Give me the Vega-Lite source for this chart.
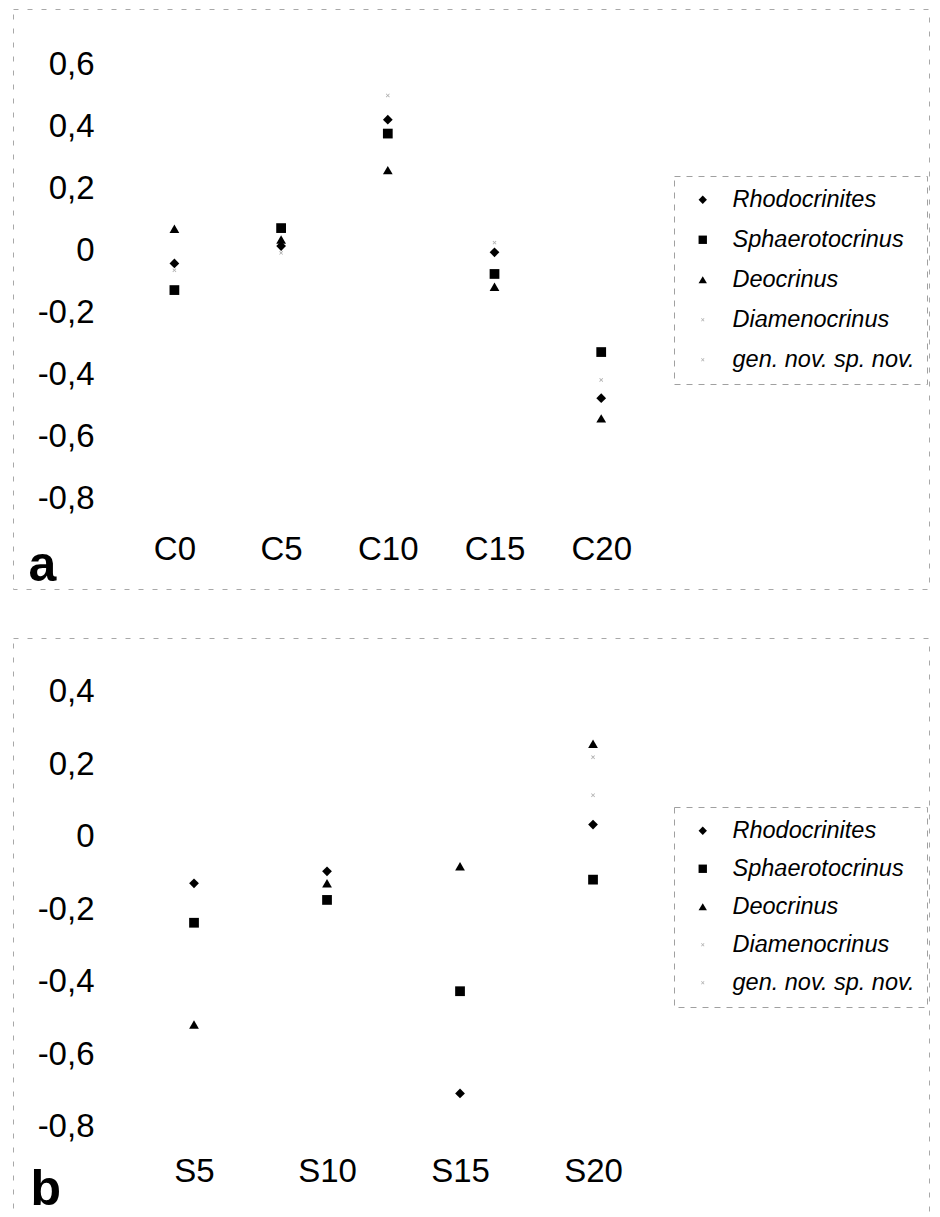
{
  "$schema": "https://vega.github.io/schema/vega-lite/v6.json",
  "background": "white",
  "padding": {"left": 12, "top": 8, "right": 12, "bottom": 3},
  "spacing": 46,
  "datasets": {
    "a": [
      {"sample": "C0", "depth": 0, "genus": "Deocrinus", "value": 0.070},
      {"sample": "C0", "depth": 0, "genus": "Sphaerotocrinus", "value": -0.128},
      {"sample": "C0", "depth": 0, "genus": "Rhodocrinites", "value": -0.042},
      {"sample": "C0", "depth": 0, "genus": "gen. nov. sp. nov.", "value": -0.064},
      {"sample": "C5", "depth": 5, "genus": "Deocrinus", "value": 0.035},
      {"sample": "C5", "depth": 5, "genus": "Sphaerotocrinus", "value": 0.072},
      {"sample": "C5", "depth": 5, "genus": "Rhodocrinites", "value": 0.014},
      {"sample": "C5", "depth": 5, "genus": "gen. nov. sp. nov.", "value": -0.008},
      {"sample": "C10", "depth": 10, "genus": "Deocrinus", "value": 0.259},
      {"sample": "C10", "depth": 10, "genus": "Sphaerotocrinus", "value": 0.377},
      {"sample": "C10", "depth": 10, "genus": "Rhodocrinites", "value": 0.422},
      {"sample": "C10", "depth": 10, "genus": "Diamenocrinus", "value": 0.50},
      {"sample": "C15", "depth": 15, "genus": "Deocrinus", "value": -0.117},
      {"sample": "C15", "depth": 15, "genus": "Sphaerotocrinus", "value": -0.076},
      {"sample": "C15", "depth": 15, "genus": "Rhodocrinites", "value": -0.006},
      {"sample": "C15", "depth": 15, "genus": "gen. nov. sp. nov.", "value": 0.025},
      {"sample": "C20", "depth": 20, "genus": "Deocrinus", "value": -0.542},
      {"sample": "C20", "depth": 20, "genus": "Sphaerotocrinus", "value": -0.328},
      {"sample": "C20", "depth": 20, "genus": "Rhodocrinites", "value": -0.477},
      {"sample": "C20", "depth": 20, "genus": "Diamenocrinus", "value": -0.418}
    ],
    "b": [
      {"sample": "S5", "depth": 5, "genus": "Deocrinus", "value": -0.518},
      {"sample": "S5", "depth": 5, "genus": "Sphaerotocrinus", "value": -0.237},
      {"sample": "S5", "depth": 5, "genus": "Rhodocrinites", "value": -0.128},
      {"sample": "S10", "depth": 10, "genus": "Deocrinus", "value": -0.128},
      {"sample": "S10", "depth": 10, "genus": "Sphaerotocrinus", "value": -0.174},
      {"sample": "S10", "depth": 10, "genus": "Rhodocrinites", "value": -0.095},
      {"sample": "S15", "depth": 15, "genus": "Deocrinus", "value": -0.081},
      {"sample": "S15", "depth": 15, "genus": "Sphaerotocrinus", "value": -0.426},
      {"sample": "S15", "depth": 15, "genus": "Rhodocrinites", "value": -0.708},
      {"sample": "S20", "depth": 20, "genus": "Deocrinus", "value": 0.257},
      {"sample": "S20", "depth": 20, "genus": "Sphaerotocrinus", "value": -0.118},
      {"sample": "S20", "depth": 20, "genus": "Rhodocrinites", "value": 0.034},
      {"sample": "S20", "depth": 20, "genus": "Diamenocrinus", "value": 0.115},
      {"sample": "S20", "depth": 20, "genus": "gen. nov. sp. nov.", "value": 0.22}
    ]
  },
  "vconcat": [
    {
      "data": {"name": "a"},
      "width": 916,
      "height": 580,
      "mark": {"type": "point", "filled": true, "size": 95, "opacity": 1},
      "encoding": {
        "x": {
          "field": "depth", "type": "quantitative",
          "scale": {"domain": [-7.563, 35.36], "nice": false, "zero": false},
          "axis": {
            "values": [0, 5, 10, 15, 20],
            "labelExpr": "'C' + datum.value",
            "title": "a",
            "titleFontSize": 50, "titleFontWeight": "bold", "titleColor": "black",
            "titleAnchor": "start", "titleAlign": "left", "titleBaseline": "alphabetic",
            "titleX": 15, "titleY": -9,
            "labelPadding": -40, "labelBaseline": "middle"
          }
        },
        "y": {
          "field": "value", "type": "quantitative",
          "scale": {"domain": [-1.0926, 0.779], "nice": false, "zero": false},
          "axis": {
            "values": [-0.8, -0.6, -0.4, -0.2, 0, 0.2, 0.4, 0.6],
            "title": null,
            "labelPadding": -81
          }
        },
        "shape": {
          "field": "genus", "type": "nominal",
          "scale": {
            "domain": ["Rhodocrinites", "Sphaerotocrinus", "Deocrinus", "Diamenocrinus", "gen. nov. sp. nov."],
            "range": ["diamond", "square", "triangle-up", "M-0.4,-0.28L-0.28,-0.4L0,-0.12L0.28,-0.4L0.4,-0.28L0.12,0L0.4,0.28L0.28,0.4L0,0.12L-0.28,0.4L-0.4,0.28L-0.12,0Z", "M-0.4,-0.28L-0.28,-0.4L0,-0.12L0.28,-0.4L0.4,-0.28L0.12,0L0.4,0.28L0.28,0.4L0,0.12L-0.28,0.4L-0.4,0.28L-0.12,0Z"]
          },
          "legend": {"orient": "none", "legendX": 661, "legendY": 167, "rowPadding": 15}
        },
        "color": {
          "field": "genus", "type": "nominal",
          "scale": {
            "domain": ["Rhodocrinites", "Sphaerotocrinus", "Deocrinus", "Diamenocrinus", "gen. nov. sp. nov."],
            "range": ["#000000", "#000000", "#000000", "#b0b0b0", "#b0b0b0"]
          },
          "legend": {"orient": "none", "legendX": 661, "legendY": 167, "rowPadding": 15}
        }
      }
    },
    {
      "data": {"name": "b"},
      "width": 916,
      "height": 580,
      "mark": {"type": "point", "filled": true, "size": 95, "opacity": 1},
      "encoding": {
        "x": {
          "field": "depth", "type": "quantitative",
          "scale": {"domain": [-1.805, 32.63], "nice": false, "zero": false},
          "axis": {
            "values": [5, 10, 15, 20],
            "labelExpr": "'S' + datum.value",
            "title": "b",
            "titleFontSize": 50, "titleFontWeight": "bold", "titleColor": "black",
            "titleAnchor": "start", "titleAlign": "left", "titleBaseline": "alphabetic",
            "titleX": 17, "titleY": -14,
            "labelPadding": -47, "labelBaseline": "middle"
          }
        },
        "y": {
          "field": "value", "type": "quantitative",
          "scale": {"domain": [-1.052, 0.549], "nice": false, "zero": false},
          "axis": {
            "values": [-0.8, -0.6, -0.4, -0.2, 0, 0.2, 0.4],
            "title": null,
            "labelPadding": -81
          }
        },
        "shape": {
          "field": "genus", "type": "nominal",
          "scale": {
            "domain": ["Rhodocrinites", "Sphaerotocrinus", "Deocrinus", "Diamenocrinus", "gen. nov. sp. nov."],
            "range": ["diamond", "square", "triangle-up", "M-0.4,-0.28L-0.28,-0.4L0,-0.12L0.28,-0.4L0.4,-0.28L0.12,0L0.4,0.28L0.28,0.4L0,0.12L-0.28,0.4L-0.4,0.28L-0.12,0Z", "M-0.4,-0.28L-0.28,-0.4L0,-0.12L0.28,-0.4L0.4,-0.28L0.12,0L0.4,0.28L0.28,0.4L0,0.12L-0.28,0.4L-0.4,0.28L-0.12,0Z"]
          },
          "legend": {"orient": "none", "legendX": 661, "legendY": 169, "rowPadding": 13}
        },
        "color": {
          "field": "genus", "type": "nominal",
          "scale": {
            "domain": ["Rhodocrinites", "Sphaerotocrinus", "Deocrinus", "Diamenocrinus", "gen. nov. sp. nov."],
            "range": ["#000000", "#000000", "#000000", "#b0b0b0", "#b0b0b0"]
          },
          "legend": {"orient": "none", "legendX": 661, "legendY": 169, "rowPadding": 13}
        }
      }
    }
  ],
  "resolve": {
    "scale": {"x": "independent", "y": "independent", "shape": "independent", "color": "independent"},
    "legend": {"shape": "independent", "color": "independent"}
  },
  "config": {
    "font": "Liberation Sans",
    "view": {"stroke": "#a8a8a8", "strokeDash": [5, 9], "strokeWidth": 1},
    "axis": {
      "grid": false, "domain": false, "ticks": false, "tickSize": 0,
      "labelFont": "Liberation Sans", "labelFontSize": 33, "labelColor": "black",
      "labelFlush": false, "labelOverlap": false, "labelBound": false,
      "titleFont": "Liberation Sans"
    },
    "axisY": {
      "labelAlign": "right", "labelBaseline": "middle",
      "labelExpr": "replace(replace(format(datum.value, '.1~f'), '.', ','), '\u2212', '-')"
    },
    "legend": {
      "title": null,
      "labelFont": "Liberation Sans", "labelFontStyle": "italic", "labelFontSize": 23.5,
      "labelColor": "black", "labelLimit": 400,
      "padding": 12, "symbolOffset": 5, "labelOffset": 18,
      "symbolSize": 70, "symbolStrokeWidth": 0,
      "strokeColor": "#a0a0a0", "strokeDash": [6, 6]
    }
  }
}
